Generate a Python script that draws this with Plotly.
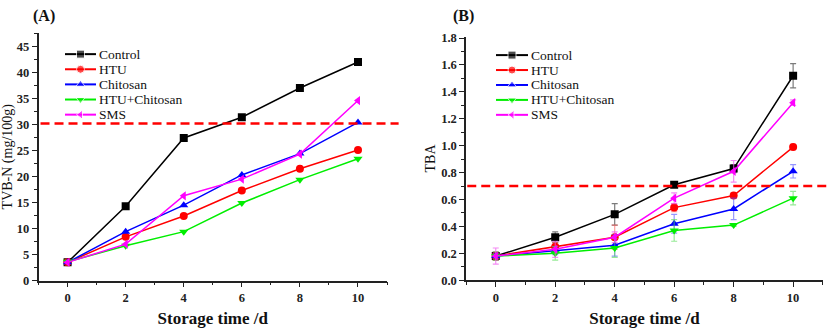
import plotly.graph_objects as go

days = [0, 2, 4, 6, 8, 10]
series_names = ["Control", "HTU", "Chitosan", "HTU+Chitosan", "SMS"]
colors = ["#000000", "#ff0000", "#0000ff", "#00ee00", "#ff00ff"]
err_colors = ["rgba(90,90,90,0.8)", "rgba(255,90,90,0.6)", "rgba(80,80,255,0.6)",
              "rgba(80,220,80,0.6)", "rgba(240,90,240,0.7)"]
symbols = ["square", "circle", "triangle-up", "triangle-down", "triangle-left"]

tvbn_control = [3.5, 14.3, 27.4, 31.4, 37.0, 42.0]
tvbn_htu = [3.5, 8.4, 12.4, 17.3, 21.5, 25.1]
tvbn_chitosan = [3.5, 9.4, 14.5, 20.3, 24.4, 30.4]
tvbn_htu_chitosan = [3.6, 6.7, 9.4, 14.9, 19.4, 23.4]
tvbn_sms = [3.5, 7.0, 16.3, 19.5, 24.3, 34.6]
tvbn_limit = 30.2

tba_control = [0.18, 0.32, 0.49, 0.71, 0.83, 1.52]
tba_htu = [0.18, 0.25, 0.32, 0.54, 0.63, 0.99]
tba_chitosan = [0.18, 0.22, 0.26, 0.42, 0.53, 0.81]
tba_htu_chitosan = [0.18, 0.20, 0.24, 0.37, 0.41, 0.61]
tba_sms = [0.18, 0.23, 0.32, 0.61, 0.81, 1.32]
tba_control_err = [0.03, 0.04, 0.08, 0.02, 0.03, 0.09]
tba_htu_err = [0.03, 0.03, 0.09, 0.03, 0.02, 0.02]
tba_chitosan_err = [0.02, 0.03, 0.08, 0.07, 0.08, 0.05]
tba_htu_chitosan_err = [0.03, 0.05, 0.07, 0.08, 0.01, 0.05]
tba_sms_err = [0.06, 0.06, 0.04, 0.04, 0.08, 0.02]
tba_limit = 0.7

tvbn = [tvbn_control, tvbn_htu, tvbn_chitosan, tvbn_htu_chitosan, tvbn_sms]
tba = [tba_control, tba_htu, tba_chitosan, tba_htu_chitosan, tba_sms]
tba_err = [tba_control_err, tba_htu_err, tba_chitosan_err, tba_htu_chitosan_err, tba_sms_err]

FONT = "Liberation Serif"
W, H = 827, 329
fig = go.Figure()

for i, name in enumerate(series_names):
    fig.add_trace(go.Scatter(
        x=days, y=tvbn[i], name=name, mode="lines+markers",
        line=dict(color=colors[i], width=1.5),
        marker=dict(symbol=symbols[i], size=8, color=colors[i]),
        xaxis="x", yaxis="y", showlegend=False))

for i, name in enumerate(series_names):
    fig.add_trace(go.Scatter(
        x=days, y=tba[i], name=name, mode="lines+markers",
        line=dict(color=colors[i], width=1.5),
        marker=dict(symbol=symbols[i], size=8, color=colors[i]),
        error_y=dict(type="data", array=tba_err[i], color=err_colors[i],
                     thickness=1.2, width=3),
        xaxis="x2", yaxis="y2", showlegend=False))

# Legend keys drawn on a pixel-space overlay axis (x3/y3)
legend_layouts = [  # (line x0, line x1, text x, first row y, row step)
    (65, 96, 97, 51, 15.7),
    (496, 528, 529, 52, 15.5),
]
for (lx0, lx1, tx, ry0, step) in legend_layouts:
    for i, name in enumerate(series_names):
        yy = ry0 + i * step
        fig.add_trace(go.Scatter(
            x=[lx0, (lx0 + lx1) / 2, lx1], y=[yy, yy, yy], mode="lines+markers",
            line=dict(color=colors[i], width=2),
            marker=dict(symbol=symbols[i], size=[0, 8, 0], color=colors[i]),
            xaxis="x3", yaxis="y3", showlegend=False, hoverinfo="skip"))
        fig.add_annotation(text=name, xref="x3", yref="y3", x=tx, y=yy,
                           xanchor="left", yanchor="middle", showarrow=False,
                           font=dict(family=FONT, size=13.5, color="#111"))

axis_common = dict(showline=True, linecolor="#222", linewidth=1.5, ticks="outside",
                   ticklen=5, tickwidth=1.2, tickcolor="#222", showgrid=False,
                   zeroline=False,
                   tickfont=dict(family=FONT, size=12.5, color="#222", weight="bold"),
                   minor=dict(ticks="outside", ticklen=3, tickwidth=1, tickcolor="#222"))

xtitle = dict(text="Storage time /d", font=dict(size=17, family=FONT, weight="bold"), standoff=8)

fig.update_layout(
    width=W, height=H,
    margin=dict(l=0, r=0, t=0, b=0),
    plot_bgcolor="rgba(0,0,0,0)", paper_bgcolor="white",
    font=dict(family=FONT, color="#111"),
    showlegend=False,
    xaxis=dict(domain=[0.0466, 0.468], range=[-1, 11], tickvals=days,
               title=xtitle, anchor="y", **axis_common),
    yaxis=dict(domain=[0.1307, 0.912], range=[0, 47.6], dtick=5,
               title=dict(text="TVB-N (mg/100g)", font=dict(size=14, family=FONT), standoff=2),
               anchor="x", **axis_common),
    xaxis2=dict(domain=[0.5635, 0.995], range=[-1, 11], tickvals=days,
                title=xtitle, anchor="y2", **axis_common),
    yaxis2=dict(domain=[0.1316, 0.9], range=[0, 1.81], dtick=0.2, tickformat=".1f",
                title=dict(text="TBA", font=dict(size=14, family=FONT), standoff=2),
                anchor="x2", **axis_common),
    xaxis3=dict(domain=[0, 1], range=[0, W], visible=False, fixedrange=True, anchor="y3"),
    yaxis3=dict(domain=[0, 1], range=[H, 0], visible=False, fixedrange=True, anchor="x3"),
)

fig.layout.xaxis.minor.tickvals = [-1, 1, 3, 5, 7, 9, 11]
fig.layout.xaxis2.minor.tickvals = [-1, 1, 3, 5, 7, 9, 11]
fig.layout.yaxis.minor.dtick = 2.5
fig.layout.yaxis2.minor.dtick = 0.1

fig.add_shape(type="line", xref="paper", yref="y", x0=0.049, x1=0.482,
              y0=tvbn_limit, y1=tvbn_limit, line=dict(color="#ff0000", width=2.5, dash="9px,5px"))
fig.add_shape(type="line", xref="paper", yref="y2", x0=0.565, x1=1.0,
              y0=tba_limit, y1=tba_limit, line=dict(color="#ff0000", width=2.5, dash="9px,5px"))

fig.add_annotation(text="<b>(A)</b>", xref="paper", yref="paper", x=0.053, y=1.0,
                   xanchor="center", yanchor="top", showarrow=False,
                   font=dict(family=FONT, size=16, color="#111"))
fig.add_annotation(text="<b>(B)</b>", xref="paper", yref="paper", x=0.561, y=1.0,
                   xanchor="center", yanchor="top", showarrow=False,
                   font=dict(family=FONT, size=16, color="#111"))

fig.write_html("out.html")
